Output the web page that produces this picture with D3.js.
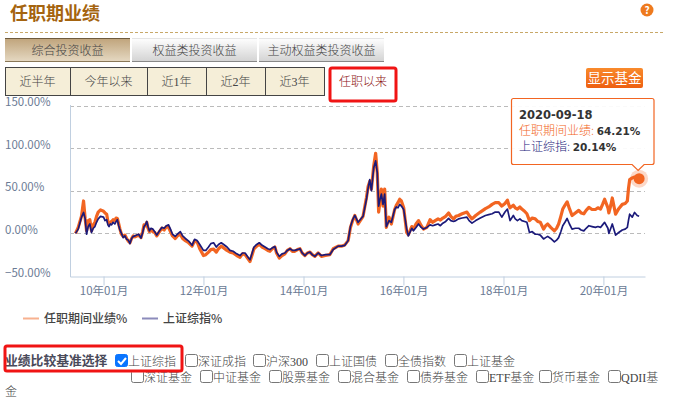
<!DOCTYPE html>
<html>
<head>
<meta charset="utf-8">
<script src="https://cdn.jsdelivr.net/npm/d3@7"></script>
<style>
  html, body { margin: 0; padding: 0; background: #fff; }
  svg { display: block; font-family: "Noto Sans CJK SC", sans-serif; }
  text { font-family: "Noto Sans CJK SC", sans-serif; }
</style>
</head>
<body>
<div id="chart"></div>
<script>
const dates = [
  "2009-06-10","2009-06-30","2009-07-24","2009-08-08","2009-08-20","2009-08-30","2009-09-11","2009-09-23","2009-10-05","2009-10-18","2009-10-30","2009-11-11","2009-11-23","2009-12-10",
  "2010-01-01","2010-01-12","2010-01-24","2010-02-02","2010-02-10","2010-02-20","2010-03-01","2010-03-12","2010-03-25","2010-04-03","2010-04-12","2010-04-22","2010-05-01","2010-05-12","2010-05-25","2010-06-06","2010-06-19","2010-07-01","2010-07-13","2010-07-25","2010-08-06","2010-08-18","2010-08-31","2010-09-15","2010-10-02","2010-10-14","2010-10-24","2010-11-03","2010-11-13","2010-11-22","2010-12-02","2010-12-14","2010-12-27",
  "2011-01-10","2011-01-25","2011-02-14","2011-03-03","2011-03-20","2011-04-05","2011-04-21","2011-05-05","2011-05-20","2011-06-09","2011-06-24","2011-07-16","2011-08-02","2011-08-22","2011-09-15","2011-10-10","2011-10-28","2011-11-16","2011-12-05",
  "2012-01-01","2012-01-18","2012-02-07","2012-02-24","2012-03-15","2012-04-04","2012-04-20","2012-05-10","2012-05-28","2012-06-21","2012-07-13","2012-08-05","2012-08-31","2012-09-24","2012-10-12","2012-10-31","2012-11-18","2012-12-06","2012-12-20",
  "2013-01-04","2013-01-24","2013-02-12","2013-03-05","2013-03-26","2013-04-15","2013-05-01","2013-05-18","2013-06-06","2013-06-18","2013-07-08","2013-07-28","2013-08-18","2013-09-05","2013-09-24","2013-10-12","2013-10-30","2013-11-18","2013-12-06","2013-12-22",
  "2014-01-11","2014-01-30","2014-02-17","2014-03-06","2014-03-25","2014-04-18","2014-05-12","2014-06-10","2014-07-12","2014-08-06","2014-09-11","2014-10-05","2014-10-30","2014-11-23","2014-12-10","2014-12-26",
  "2015-01-11","2015-02-04","2015-03-12","2015-04-06","2015-04-18","2015-04-30","2015-05-12","2015-05-29","2015-06-12","2015-06-24","2015-07-04","2015-07-14","2015-07-24","2015-08-05","2015-08-17","2015-08-29","2015-09-18","2015-10-05","2015-10-29","2015-11-10","2015-11-22","2015-12-05","2015-12-17",
  "2016-01-03","2016-01-25","2016-02-06","2016-03-02","2016-03-14","2016-04-02","2016-04-20","2016-05-10","2016-05-27","2016-06-20","2016-07-14","2016-08-02","2016-08-20","2016-09-10","2016-09-27","2016-10-15","2016-11-05","2016-11-26","2016-12-12",
  "2017-01-01","2017-01-18","2017-02-07","2017-03-05","2017-04-09","2017-04-25","2017-05-16","2017-06-12","2017-07-16","2017-08-22","2017-09-15","2017-10-10","2017-11-02","2017-11-28","2017-12-20",
  "2018-01-12","2018-01-30","2018-02-08","2018-02-18","2018-03-14","2018-03-28","2018-04-13","2018-05-01","2018-05-15","2018-06-04","2018-06-21","2018-07-10","2018-07-30","2018-08-21","2018-09-08","2018-09-27","2018-10-21","2018-11-05","2018-11-20","2018-12-12",
  "2019-01-08","2019-01-24","2019-02-08","2019-02-24","2019-03-10","2019-03-26","2019-04-11","2019-04-28","2019-05-17","2019-06-10","2019-07-05","2019-07-22","2019-08-11","2019-08-28","2019-09-17","2019-10-10","2019-11-04","2019-11-22","2019-12-11","2019-12-26",
  "2020-01-10","2020-02-03","2020-02-10","2020-02-24","2020-03-06","2020-03-30","2020-04-22","2020-05-18","2020-06-08","2020-06-24","2020-07-02","2020-07-11","2020-07-30","2020-08-16","2020-09-04","2020-09-18"
];
const fundReturn = [
  0,7,20,38,17,3,15,16,3,10,13,20,25,27.6,
  26,24,22.5,14,11,13,14,16,15,18,17.5,11,5,-1,-3.5,-2,-6,-9,-11,-6,-3,-4,-3,-2,-5,2,10,9,13,6,2,4,2,
  1,-3,2,6,4,8,7,2,-3,-6,-3,-1,-6,-8.5,-11,-15,-9,-10,-18,
  -26,-25,-22,-19,-18.5,-22,-18,-15,-17,-20,-22,-23,-26,-28,-24,-25,-29,-33,-26,
  -18,-15,-12.5,-16,-18,-20,-21,-18,-16,-23,-29,-26,-24,-20,-18,-21,-21,-19,-18,-23,
  -26,-23,-22,-25,-27,-23,-27,-26,-25,-18,-15,-15,-13.5,-8.5,7,15,
  21,11,20,42,55,61,52,79,94,71,25,38,52,32,52,7,19,11,28,33,36,40,38,
  30,1,-1.5,8,5,11,15,9,5,7,16,13,15,17,15.6,18,20,24,20,
  17,20,21,23,25,21,17,21,25,29,31,34,36,36,32,
  35,39,34,30,33,30,28.5,31,28.5,26,23,15,18,17,14,13,5,9,11,7,
  3,6,11,20,28.5,33,37,29,21,24,27,24,23,27,30.5,28,28,30,28.5,34,
  40,30,24,33,41.5,22.5,29,34,35,38,52,63,65,66,63,64.21
];
const indexReturn = [
  0,5,19,24.5,17,-1,8,11,1,6,8,13,17,20,
  19,15,16,10,8,11,10,13,11,14,16,9,4,0,-5,-3,-7,-8,-12,-6,-3.5,-3,-2,-1,-5.5,1,8,10,14,8,3,6,5,
  2,-2,3,7,6,9,10,5,-1,-3.5,-1,2,-3,-6,-9,-14,-7,-8.5,-13,
  -20,-20,-16,-12,-11,-16,-13,-11,-13,-16,-20,-21,-24,-26,-23,-23,-27,-31,-24,
  -16,-13,-11,-14,-16,-18,-19,-17,-15.5,-22,-27,-24,-23,-20,-18,-20,-20,-19,-18,-23,
  -26,-23,-22,-25,-27,-23,-26,-25,-25,-19,-15,-15,-14,-8.5,8,16,
  21,13,20,40,53,63,50,77,85,71,32,40,46,34,46,8,15,13,28,31,30,34,32,
  28,5,-3,6,3,7,11,7,5,7,10,9,10,11,9,12,14,17.5,15,
  14,15,17,18,19,15,12,15,18,21,22,23,25,25,19,
  25,28.5,22,15,21,17,15,17,15,14,13,1,2,-1,-1,-2,-6.5,-5,-3.5,-6,
  -10,-8,-5,2,9,13,17.5,11,5,6,6,4,3,6,9,8,7,8,7,10,
  13,6,0,6,11,-2,1,4,5,7,15,22.5,19,24.5,21,20.14
];
const yTicks = [150, 100, 50, 0, -50];
const xTicks = ["2010-01-01","2012-01-01","2014-01-01","2016-01-01","2018-01-01","2020-01-01"];
const seriesNames = ["任职期间业绩%", "上证综指%"];
const mainTabs = ["综合投资收益", "权益类投资收益", "主动权益类投资收益"];
const periodTabs = ["近半年", "今年以来", "近1年", "近2年", "近3年"];
const benchRow1 = ["上证综指", "深证成指", "沪深300", "上证国债", "全债指数", "上证基金"];
const benchRow2 = ["深证基金", "中证基金", "股票基金", "混合基金", "债券基金", "ETF基金", "货币基金", "QDII基"];

const width = 675, height = 406;
const parse = d3.timeParse("%Y-%m-%d");
const orange = "#f26522", navy = "#1b1a7a";
const serifCjk = "\"Liberation Serif\", \"Noto Sans CJK SC\", sans-serif";
const latinCjk = "\"DejaVu Sans\", \"Noto Sans CJK SC\", sans-serif";

const svg = d3.select("#chart").append("svg").attr("width", width).attr("height", height);

const defs = svg.append("defs");
const grad = (id, top, bottom) => {
  const g = defs.append("linearGradient").attr("id", id).attr("x1", 0).attr("x2", 0).attr("y1", 0).attr("y2", 1);
  g.append("stop").attr("offset", "0%").attr("stop-color", top);
  g.append("stop").attr("offset", "100%").attr("stop-color", bottom);
};
grad("tabOn", "#bfa37a", "#e6dac4");
grad("tabOff", "#ffffff", "#d2d2d2");
grad("btn", "#f98a2c", "#ee5f10");

// header
svg.append("text").attr("x", 10).attr("y", 20).attr("font-size", 18).attr("font-weight", 700)
  .attr("fill", "#a5640f").text("任职期业绩");
svg.append("line").attr("x1", 5).attr("x2", 665).attr("y1", 32.5).attr("y2", 32.5)
  .attr("stroke", "#c8a868").attr("stroke-dasharray", "3,2");
svg.append("circle").attr("cx", 647).attr("cy", 10).attr("r", 6.5).attr("fill", "#ee7a1e");
svg.append("text").attr("x", 647).attr("y", 14).attr("text-anchor", "middle").attr("font-size", 10)
  .attr("font-weight", 700).attr("fill", "#fff").text("?");

// main tabs
const tabX = [5, 132, 259], tabW = [125, 125, 125];
mainTabs.forEach((t, i) => {
  svg.append("rect").attr("x", tabX[i]).attr("y", 38).attr("width", tabW[i]).attr("height", 24)
    .attr("fill", i === 0 ? "url(#tabOn)" : "url(#tabOff)");
  svg.append("line").attr("x1", tabX[i]).attr("x2", tabX[i] + tabW[i]).attr("y1", 38.5).attr("y2", 38.5)
    .attr("stroke", i === 0 ? "#6e5a3c" : "#e4e4e4");
  svg.append("line").attr("x1", tabX[i]).attr("x2", tabX[i] + tabW[i]).attr("y1", 61.5).attr("y2", 61.5)
    .attr("stroke", i === 0 ? "#8a7858" : "#888");
  svg.append("text").attr("x", tabX[i] + tabW[i] / 2).attr("y", 55).attr("text-anchor", "middle")
    .attr("font-size", 12).attr("font-weight", 300).attr("fill", "#444").text(t);
});

// period tabs
const cellEdges = [5, 70, 147, 206, 265, 324];
periodTabs.forEach((t, i) => {
  svg.append("rect").attr("x", cellEdges[i] + 0.5).attr("y", 67.5)
    .attr("width", cellEdges[i + 1] - cellEdges[i]).attr("height", 28)
    .attr("fill", "#f5eed8").attr("stroke", "#444");
  svg.append("text").attr("x", (cellEdges[i] + cellEdges[i + 1]) / 2).attr("y", 86).attr("text-anchor", "middle")
    .attr("font-size", 12).attr("font-weight", 300).style("font-family", serifCjk).attr("fill", "#444").text(t);
});
svg.append("text").attr("x", 363).attr("y", 86).attr("text-anchor", "middle")
  .attr("font-size", 12).attr("font-weight", 300).attr("fill", "#8b0f0f").text("任职以来");
svg.append("rect").attr("x", 330).attr("y", 68).attr("width", 66).attr("height", 33).attr("rx", 2)
  .attr("fill", "none").attr("stroke", "#f01414").attr("stroke-width", 3);

// show fund button
svg.append("rect").attr("x", 586).attr("y", 68).attr("width", 57).attr("height", 20).attr("rx", 2)
  .attr("fill", "url(#btn)");
svg.append("text").attr("x", 614.5).attr("y", 83).attr("text-anchor", "middle").attr("font-size", 13.5)
  .attr("fill", "#fff").text("显示基金");

// scales
const x = d3.scaleTime().domain([parse("2009-05-01"), parse("2020-10-31")]).range([70, 645]);
const y = d3.scaleLinear().domain([-50, 150]).range([276, 105.5]);

// grid lines and y labels
svg.append("g").selectAll("line").data(yTicks.filter(d => d > -50)).join("line")
  .attr("x1", 70).attr("x2", 645).attr("y1", d => Math.round(y(d)) + 0.5).attr("y2", d => Math.round(y(d)) + 0.5)
  .attr("stroke", "#bbb").attr("stroke-dasharray", "4,3");
svg.append("g").selectAll("text").data(yTicks).join("text")
  .attr("x", 5).attr("y", d => y(d) + 0.5).attr("font-size", 11.5).attr("fill", "#6b7b95")
  .text(d => d3.format(".2f")(d) + "%");

// x axis
const xAxis = svg.append("g").attr("transform", "translate(0,276.5)")
  .call(d3.axisBottom(x).tickValues(xTicks.map(parse)).tickFormat(d3.timeFormat("%y年%m月")).tickSize(9).tickSizeOuter(0));
xAxis.select(".domain").attr("stroke", "#c0cfe0");
xAxis.selectAll(".tick line").attr("stroke", "#c0cfe0");
xAxis.selectAll("text").attr("font-size", 11.5).attr("fill", "#6b7b95").attr("dy", "0.55em")
  .attr("font-family", "\"Noto Sans CJK SC\", sans-serif");
svg.append("line").attr("x1", 70.5).attr("x2", 70.5).attr("y1", 105).attr("y2", 277).attr("stroke", "#c0cfe0");

// series
const rows = dates.map((d, i) => ({ date: parse(d), fund: fundReturn[i], index: indexReturn[i] }));
const line = key => d3.line().x(d => x(d.date)).y(d => y(d[key]));
svg.append("path").datum(rows).attr("fill", "none").attr("stroke", orange).attr("stroke-width", 3.2)
  .attr("stroke-linejoin", "round").attr("d", line("fund"));
svg.append("path").datum(rows).attr("fill", "none").attr("stroke", navy).attr("stroke-width", 1.7)
  .attr("stroke-linejoin", "round").attr("d", line("index"));

// highlighted last point
const last = rows[rows.length - 1];
svg.append("circle").attr("cx", x(last.date)).attr("cy", y(last.fund)).attr("r", 9).attr("fill", orange).attr("opacity", 0.25);
svg.append("circle").attr("cx", x(last.date)).attr("cy", y(last.fund)).attr("r", 5.5).attr("fill", orange);

// tooltip
const tipX = 511.5, tipY = 98.5, tipR = 654, tipB = 164.5, ax = x(last.date) - 1;
svg.append("path")
  .attr("d", `M${tipX + 2},${tipY}H${tipR - 2}Q${tipR},${tipY} ${tipR},${tipY + 2}V${tipB - 2}Q${tipR},${tipB} ${tipR - 2},${tipB}H${ax + 6}L${ax},${tipB + 6}L${ax - 6},${tipB}H${tipX + 2}Q${tipX},${tipB} ${tipX},${tipB - 2}V${tipY + 2}Q${tipX},${tipY} ${tipX + 2},${tipY}Z`)
  .attr("fill", "#fff").attr("fill-opacity", 0.93).attr("stroke", orange).attr("stroke-width", 1.2);
const tip = svg.append("g").attr("font-size", 12).attr("fill", "#333");
tip.append("text").attr("x", 519).attr("y", 119).attr("font-weight", 700).attr("font-size", 11.5)
  .style("font-family", latinCjk).text(d3.timeFormat("%Y-%m-%d")(last.date));
const t1 = tip.append("text").attr("x", 519).attr("y", 135);
t1.append("tspan").attr("fill", orange).attr("font-weight", 300).text("任职期间业绩: ");
t1.append("tspan").attr("font-weight", 700).attr("font-size", 10.5).style("font-family", latinCjk).text(last.fund.toFixed(2) + "%");
const t2 = tip.append("text").attr("x", 519).attr("y", 151);
t2.append("tspan").attr("fill", navy).attr("font-weight", 300).text("上证综指: ");
t2.append("tspan").attr("font-weight", 700).attr("font-size", 10.5).style("font-family", latinCjk).text(last.index.toFixed(2) + "%");

// legend
const legendX = [23, 142], legendColors = [orange, navy];
seriesNames.forEach((n, i) => {
  svg.append("line").attr("x1", legendX[i]).attr("x2", legendX[i] + 16).attr("y1", 318.5).attr("y2", 318.5)
    .attr("stroke", legendColors[i]).attr("stroke-width", 2).attr("opacity", 0.5);
  svg.append("text").attr("x", legendX[i] + 21).attr("y", 323).attr("font-size", 12).attr("font-weight", 500)
    .attr("fill", "#444").text(n);
});

// benchmark selector
svg.append("text").attr("x", 5).attr("y", 365).attr("font-size", 12.8).attr("font-weight", 700)
  .attr("fill", "#4a4a5a").text("业绩比较基准选择");
const checkbox = (bx, by, label, on) => {
  svg.append("rect").attr("x", bx + 0.5).attr("y", by + 0.5).attr("width", 12).attr("height", 12).attr("rx", 2)
    .attr("fill", on ? "#0a75ff" : "#fff").attr("stroke", on ? "#0a75ff" : "#777");
  if (on) svg.append("path").attr("d", `M${bx + 3},${by + 7}l3,3l5,-6`).attr("fill", "none").attr("stroke", "#fff").attr("stroke-width", 2);
  svg.append("text").attr("x", bx + 13).attr("y", by + 11.5).attr("font-size", 12).attr("font-weight", 300)
    .style("font-family", serifCjk).attr("fill", "#444").text(label);
};
const row1X = [115, 185, 253, 316, 385, 454];
const row2X = [131, 200, 269, 338, 407, 476, 539, 608];
benchRow2.forEach((n, i) => checkbox(row2X[i], 370, n, false));
benchRow1.forEach((n, i) => checkbox(row1X[i], 354, n, i === 0));
svg.append("text").attr("x", 5).attr("y", 396).attr("font-size", 12).attr("font-weight", 300).attr("fill", "#444").text("金");
svg.append("rect").attr("x", 5).attr("y", 346).attr("width", 177).attr("height", 25).attr("rx", 2)
  .attr("fill", "none").attr("stroke", "#f01414").attr("stroke-width", 3);
</script>
</body>
</html>
